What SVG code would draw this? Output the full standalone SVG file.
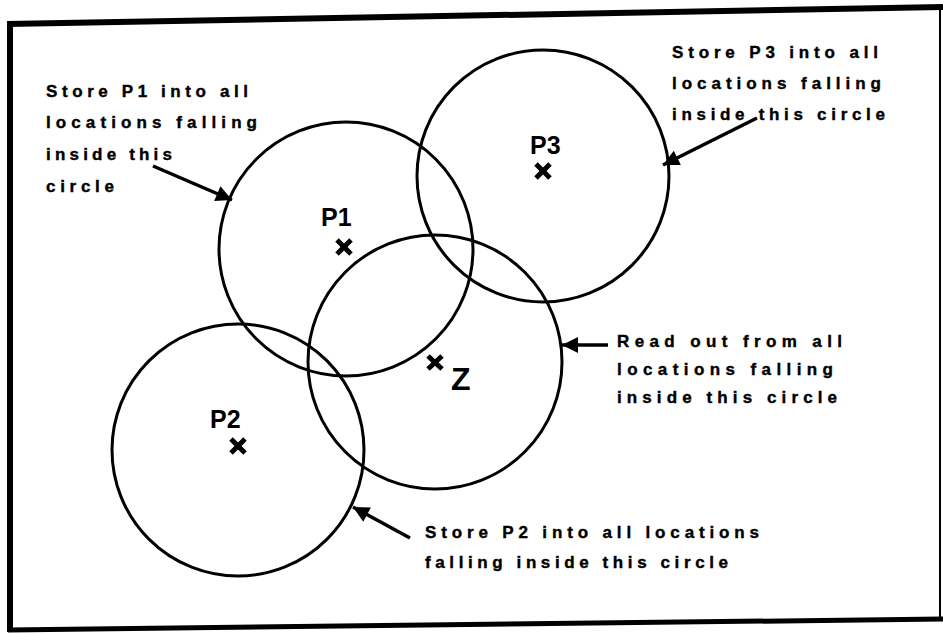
<svg xmlns="http://www.w3.org/2000/svg" width="943" height="633" viewBox="0 0 943 633">
<style>
.circ{fill:none;stroke:#000;stroke-width:3}
.lbl{font-family:"Liberation Sans",Arial,sans-serif;font-weight:bold;font-size:17px;fill:#000;stroke:#000;stroke-width:0.4}
.pt{font-family:"Liberation Sans",Arial,sans-serif;font-weight:bold;font-size:25px;fill:#000}
.x{stroke:#000;stroke-width:5;stroke-linecap:butt}
.arr{stroke:#000;stroke-width:3.5;fill:none;marker-end:url(#ah)}
.frame{stroke:#000;fill:none}
</style>
<defs>
<marker id="ah" viewBox="0 0 10 10" refX="10" refY="5" markerWidth="21" markerHeight="16" markerUnits="userSpaceOnUse" orient="auto">
<path d="M0,0 L10,5 L0,10 Z" fill="#000"/>
</marker>
</defs>
<rect width="943" height="633" fill="#fff"/>
<g id="frame">
<line class="frame" x1="7" y1="24" x2="943" y2="7" stroke-width="6"/>
<line class="frame" x1="10" y1="21" x2="10" y2="632" stroke-width="6"/>
<line class="frame" x1="8" y1="630" x2="943" y2="619" stroke-width="5"/>
<line class="frame" x1="940" y1="6" x2="940" y2="621" stroke-width="2"/>
</g>
<g id="circle-p1"><circle class="circ" cx="346" cy="249" r="127"/><line class="x" x1="337" y1="240" x2="351" y2="254"/><line class="x" x1="351" y1="240" x2="337" y2="254"/><text class="pt" x="321" y="226">P1</text></g>
<g id="circle-p3"><circle class="circ" cx="543" cy="176" r="126"/><line class="x" x1="536" y1="164" x2="550" y2="178"/><line class="x" x1="550" y1="164" x2="536" y2="178"/><text class="pt" x="530" y="154">P3</text></g>
<g id="circle-p2"><circle class="circ" cx="238" cy="450" r="126"/><line class="x" x1="231" y1="439" x2="245" y2="453"/><line class="x" x1="245" y1="439" x2="231" y2="453"/><text class="pt" x="210" y="428">P2</text></g>
<g id="circle-z"><circle class="circ" cx="435" cy="362" r="127"/><line class="x" x1="428" y1="356" x2="442" y2="369"/><line class="x" x1="442" y1="356" x2="428" y2="369"/><text class="pt" x="451" y="390" style="font-size:32px">Z</text></g>
<g id="note-p1">
<text class="lbl" x="46" y="97" textLength="202" lengthAdjust="spacing">Store P1 into all</text>
<text class="lbl" x="46" y="128" textLength="211" lengthAdjust="spacing">locations falling</text>
<text class="lbl" x="46" y="160" textLength="126" lengthAdjust="spacing">inside this</text>
<text class="lbl" x="46" y="192" textLength="68" lengthAdjust="spacing">circle</text>
</g>
<g id="note-p3">
<text class="lbl" x="672" y="58" textLength="206" lengthAdjust="spacing">Store P3 into all</text>
<text class="lbl" x="672" y="89" textLength="209" lengthAdjust="spacing">locations falling</text>
<text class="lbl" x="672" y="120" textLength="213" lengthAdjust="spacing">inside this circle</text>
</g>
<g id="note-read">
<text class="lbl" x="617" y="347" textLength="225" lengthAdjust="spacing">Read out from all</text>
<text class="lbl" x="617" y="375" textLength="216" lengthAdjust="spacing">locations falling</text>
<text class="lbl" x="617" y="403" textLength="220" lengthAdjust="spacing">inside this circle</text>
</g>
<g id="note-p2">
<text class="lbl" x="425" y="538" textLength="334" lengthAdjust="spacing">Store P2 into all locations</text>
<text class="lbl" x="425" y="568" textLength="303" lengthAdjust="spacing">falling inside this circle</text>
</g>
<g id="connectors">
<line class="arr" x1="153" y1="166" x2="232" y2="200"/>
<line class="arr" x1="757" y1="118" x2="663" y2="165"/>
<line class="arr" x1="608" y1="345" x2="562" y2="345"/>
<line class="arr" x1="410" y1="538" x2="353" y2="507"/>
</g>
</svg>
